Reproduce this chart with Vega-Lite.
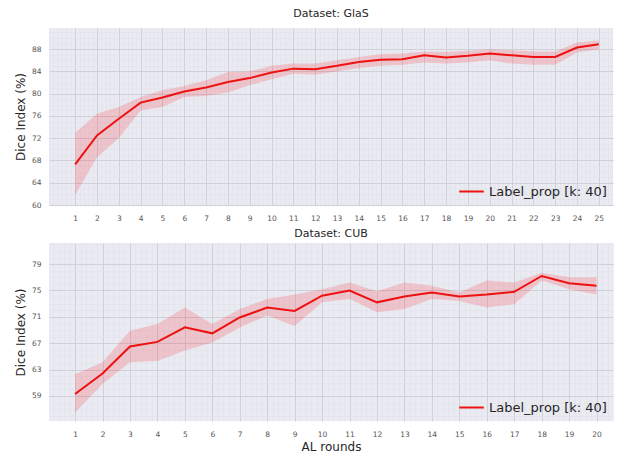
{
  "$schema": "https://vega.github.io/schema/vega-lite/v6.json",
  "padding": {"left": 14, "top": 8, "right": 3, "bottom": 0},
  "spacing": 6,
  "datasets": {
    "glas": [
      {"round": 1, "mean": 67.3, "lo": 61.8, "hi": 73.0, "series": "Label_prop [k: 40]"},
      {"round": 2, "mean": 72.5, "lo": 68.6, "hi": 76.4, "series": "Label_prop [k: 40]"},
      {"round": 3, "mean": 75.5, "lo": 72.0, "hi": 77.6, "series": "Label_prop [k: 40]"},
      {"round": 4, "mean": 78.4, "lo": 77.0, "hi": 79.4, "series": "Label_prop [k: 40]"},
      {"round": 5, "mean": 79.3, "lo": 77.6, "hi": 80.6, "series": "Label_prop [k: 40]"},
      {"round": 6, "mean": 80.4, "lo": 79.4, "hi": 81.4, "series": "Label_prop [k: 40]"},
      {"round": 7, "mean": 81.1, "lo": 79.6, "hi": 82.4, "series": "Label_prop [k: 40]"},
      {"round": 8, "mean": 82.1, "lo": 80.2, "hi": 83.9, "series": "Label_prop [k: 40]"},
      {"round": 9, "mean": 82.8, "lo": 81.5, "hi": 84.0, "series": "Label_prop [k: 40]"},
      {"round": 10, "mean": 83.8, "lo": 82.6, "hi": 85.0, "series": "Label_prop [k: 40]"},
      {"round": 11, "mean": 84.5, "lo": 83.6, "hi": 85.4, "series": "Label_prop [k: 40]"},
      {"round": 12, "mean": 84.4, "lo": 83.4, "hi": 85.4, "series": "Label_prop [k: 40]"},
      {"round": 13, "mean": 85.0, "lo": 84.0, "hi": 86.0, "series": "Label_prop [k: 40]"},
      {"round": 14, "mean": 85.7, "lo": 84.6, "hi": 86.6, "series": "Label_prop [k: 40]"},
      {"round": 15, "mean": 86.1, "lo": 85.0, "hi": 87.1, "series": "Label_prop [k: 40]"},
      {"round": 16, "mean": 86.2, "lo": 85.2, "hi": 87.2, "series": "Label_prop [k: 40]"},
      {"round": 17, "mean": 86.9, "lo": 85.6, "hi": 87.6, "series": "Label_prop [k: 40]"},
      {"round": 18, "mean": 86.5, "lo": 85.4, "hi": 87.5, "series": "Label_prop [k: 40]"},
      {"round": 19, "mean": 86.8, "lo": 85.6, "hi": 87.7, "series": "Label_prop [k: 40]"},
      {"round": 20, "mean": 87.2, "lo": 86.0, "hi": 88.0, "series": "Label_prop [k: 40]"},
      {"round": 21, "mean": 86.9, "lo": 85.4, "hi": 87.8, "series": "Label_prop [k: 40]"},
      {"round": 22, "mean": 86.6, "lo": 85.2, "hi": 87.6, "series": "Label_prop [k: 40]"},
      {"round": 23, "mean": 86.6, "lo": 85.2, "hi": 87.6, "series": "Label_prop [k: 40]"},
      {"round": 24, "mean": 88.3, "lo": 87.4, "hi": 89.2, "series": "Label_prop [k: 40]"},
      {"round": 25, "mean": 88.9, "lo": 88.0, "hi": 89.6, "series": "Label_prop [k: 40]"}
    ],
    "cub": [
      {"round": 1, "mean": 59.3, "lo": 56.5, "hi": 62.3, "series": "Label_prop [k: 40]"},
      {"round": 2, "mean": 62.4, "lo": 60.8, "hi": 64.1, "series": "Label_prop [k: 40]"},
      {"round": 3, "mean": 66.5, "lo": 64.1, "hi": 68.9, "series": "Label_prop [k: 40]"},
      {"round": 4, "mean": 67.2, "lo": 64.3, "hi": 69.9, "series": "Label_prop [k: 40]"},
      {"round": 5, "mean": 69.4, "lo": 65.9, "hi": 72.4, "series": "Label_prop [k: 40]"},
      {"round": 6, "mean": 68.5, "lo": 67.1, "hi": 69.9, "series": "Label_prop [k: 40]"},
      {"round": 7, "mean": 70.9, "lo": 69.4, "hi": 72.2, "series": "Label_prop [k: 40]"},
      {"round": 8, "mean": 72.4, "lo": 71.2, "hi": 73.7, "series": "Label_prop [k: 40]"},
      {"round": 9, "mean": 71.9, "lo": 69.6, "hi": 74.4, "series": "Label_prop [k: 40]"},
      {"round": 10, "mean": 74.2, "lo": 73.2, "hi": 75.2, "series": "Label_prop [k: 40]"},
      {"round": 11, "mean": 75.0, "lo": 73.7, "hi": 76.2, "series": "Label_prop [k: 40]"},
      {"round": 12, "mean": 73.2, "lo": 71.7, "hi": 74.9, "series": "Label_prop [k: 40]"},
      {"round": 13, "mean": 74.1, "lo": 72.2, "hi": 76.2, "series": "Label_prop [k: 40]"},
      {"round": 14, "mean": 74.7, "lo": 73.7, "hi": 75.7, "series": "Label_prop [k: 40]"},
      {"round": 15, "mean": 74.1, "lo": 73.4, "hi": 74.7, "series": "Label_prop [k: 40]"},
      {"round": 16, "mean": 74.4, "lo": 72.4, "hi": 76.5, "series": "Label_prop [k: 40]"},
      {"round": 17, "mean": 74.8, "lo": 72.9, "hi": 76.2, "series": "Label_prop [k: 40]"},
      {"round": 18, "mean": 77.2, "lo": 76.5, "hi": 77.7, "series": "Label_prop [k: 40]"},
      {"round": 19, "mean": 76.1, "lo": 75.2, "hi": 77.0, "series": "Label_prop [k: 40]"},
      {"round": 20, "mean": 75.7, "lo": 74.4, "hi": 77.0, "series": "Label_prop [k: 40]"}
    ]
  },
  "vconcat": [
    {
      "width": 564,
      "height": 177,
      "title": {"text": "Dataset: GlaS", "fontSize": 11, "fontWeight": "normal", "offset": 9, "color": "#262626"},
      "data": {"name": "glas"},
      "layer": [
        {
          "mark": {"type": "area", "color": "red", "opacity": 0.16},
          "encoding": {
            "x": {"field": "round", "type": "quantitative", "scale": {"domain": [-0.2, 25.65], "nice": false, "zero": false},
                  "axis": {"orient": "top", "tickCount": 130, "labels": false, "ticks": false, "domain": false, "title": null, "grid": true, "gridColor": "#e0e0e8", "gridWidth": 0.5}},
            "y": {"field": "lo", "type": "quantitative", "scale": {"domain": [60, 91.8], "nice": false, "zero": false},
                  "axis": {"orient": "right", "tickCount": 32, "labels": false, "ticks": false, "domain": false, "title": null, "grid": true, "gridColor": "#e0e0e8", "gridWidth": 0.5}},
            "y2": {"field": "hi"}
          }
        },
        {
          "mark": {"type": "line", "strokeWidth": 2},
          "encoding": {
            "x": {"field": "round", "type": "quantitative",
                  "axis": {"orient": "bottom", "values": [1,2,3,4,5,6,7,8,9,10,11,12,13,14,15,16,17,18,19,20,21,22,23,24,25], "title": null, "grid": true, "gridColor": "#d0d0d9", "gridWidth": 1}},
            "y": {"field": "mean", "type": "quantitative",
                  "axis": {"orient": "left", "values": [60,64,68,72,76,80,84,88], "title": "Dice Index (%)", "grid": true, "gridColor": "#d0d0d9", "gridWidth": 1}},
            "color": {"field": "series", "type": "nominal", "scale": {"range": ["#ee1111"]},
                      "legend": {"title": null, "orient": "bottom-right", "offset": 6, "symbolType": "stroke", "symbolStrokeWidth": 2, "symbolSize": 600, "labelFontSize": 13, "labelColor": "#262626"}}
          }
        }
      ],
      "resolve": {"axis": {"x": "independent", "y": "independent"}}
    },
    {
      "width": 564,
      "height": 178,
      "title": {"text": "Dataset: CUB", "fontSize": 11, "fontWeight": "normal", "offset": 4, "color": "#262626"},
      "data": {"name": "cub"},
      "layer": [
        {
          "mark": {"type": "area", "color": "red", "opacity": 0.16},
          "encoding": {
            "x": {"field": "round", "type": "quantitative", "scale": {"domain": [0.05, 20.6], "nice": false, "zero": false},
                  "axis": {"orient": "top", "tickCount": 103, "labels": false, "ticks": false, "domain": false, "title": null, "grid": true, "gridColor": "#e0e0e8", "gridWidth": 0.5}},
            "y": {"field": "lo", "type": "quantitative", "scale": {"domain": [55.2, 82.2], "nice": false, "zero": false},
                  "axis": {"orient": "right", "tickCount": 27, "labels": false, "ticks": false, "domain": false, "title": null, "grid": true, "gridColor": "#e0e0e8", "gridWidth": 0.5}},
            "y2": {"field": "hi"}
          }
        },
        {
          "mark": {"type": "line", "strokeWidth": 2},
          "encoding": {
            "x": {"field": "round", "type": "quantitative",
                  "axis": {"orient": "bottom", "values": [1,2,3,4,5,6,7,8,9,10,11,12,13,14,15,16,17,18,19,20], "title": "AL rounds", "grid": true, "gridColor": "#d0d0d9", "gridWidth": 1}},
            "y": {"field": "mean", "type": "quantitative",
                  "axis": {"orient": "left", "values": [55,59,63,67,71,75,79], "title": "Dice Index (%)", "grid": true, "gridColor": "#d0d0d9", "gridWidth": 1}},
            "color": {"field": "series", "type": "nominal", "scale": {"range": ["#ee1111"]},
                      "legend": {"title": null, "orient": "bottom-right", "offset": 6, "symbolType": "stroke", "symbolStrokeWidth": 2, "symbolSize": 600, "labelFontSize": 13, "labelColor": "#262626"}}
          }
        }
      ],
      "resolve": {"axis": {"x": "independent", "y": "independent"}}
    }
  ],
  "resolve": {"scale": {"color": "independent"}},
  "config": {
    "font": "DejaVu Sans",
    "view": {"fill": "#eaeaf2", "stroke": null},
    "axis": {"labelFontSize": 7.5, "labelColor": "#555555", "ticks": false, "domain": false, "labelPadding": 8, "titleFontSize": 12, "titleFontWeight": "normal", "titleColor": "#262626", "titlePadding": 4},
    "axisBottom": {"labelPadding": 9, "titlePadding": 4}
  }
}
